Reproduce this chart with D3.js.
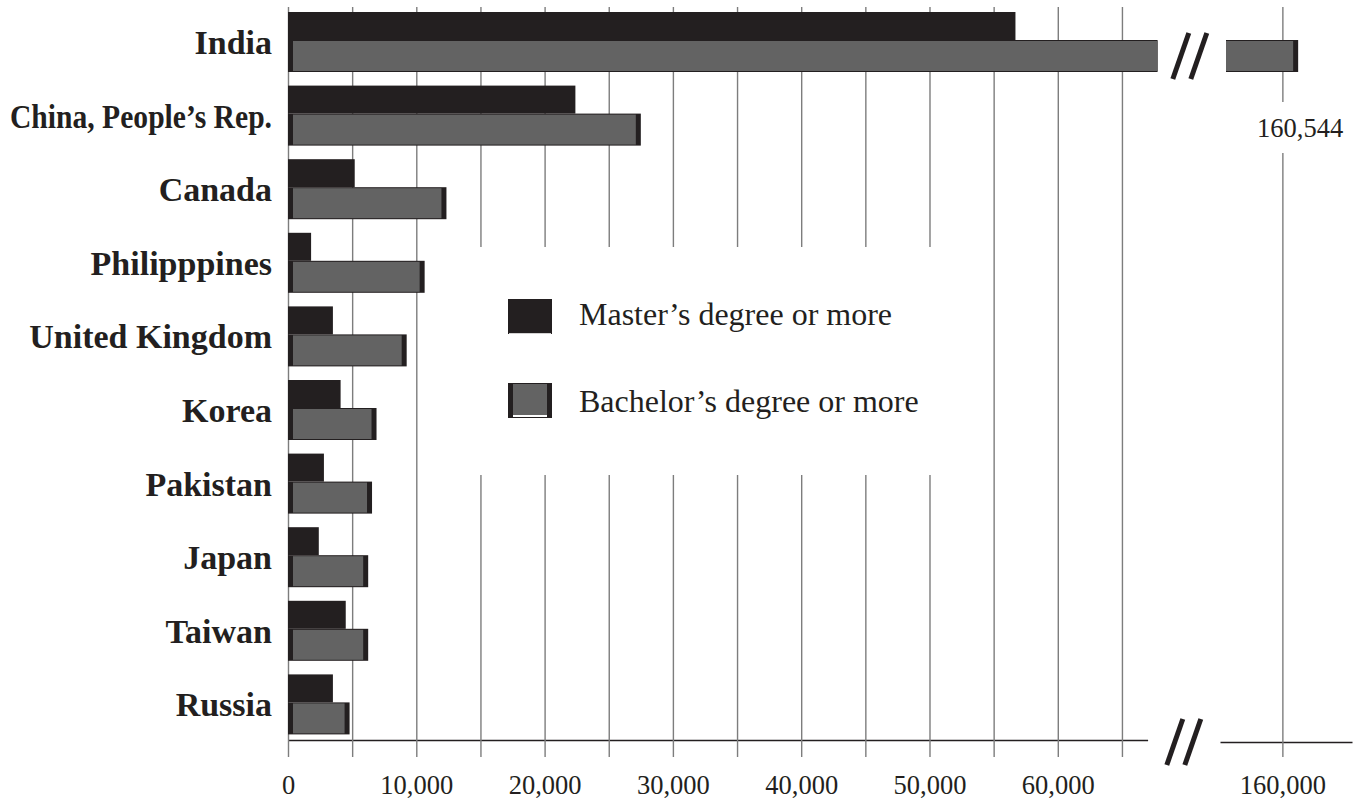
<!DOCTYPE html>
<html>
<head>
<meta charset="utf-8">
<script src="https://cdn.jsdelivr.net/npm/d3@7"></script>
<style>
  body { margin: 0; background: #fff; }
  svg { display: block; }
  text { fill: #231f20; font-family: "Liberation Serif", "Times New Roman", serif; }
</style>
</head>
<body>
<svg id="chart" width="1358" height="804"></svg>
<script>
// values
const countries = ['India', 'China, People’s Rep.', 'Canada', 'Philipppines', 'United Kingdom',
  'Korea', 'Pakistan', 'Japan', 'Taiwan', 'Russia']
const masters   = [56700, 22400, 5200, 1800, 3500, 4100, 2800, 2400, 4500, 3500]
const bachelors = [160544, 27500, 12350, 10650, 9250, 6900, 6550, 6250, 6250, 4800]

const gridValues  = [0, 5000, 10000, 15000, 20000, 25000, 30000, 35000, 40000, 45000, 50000, 55000, 60000, 65000]
const labelValues = [0, 10000, 20000, 30000, 40000, 50000, 60000]
const breakTicks  = [160000]
const legendItems = ['Master’s degree or more', 'Bachelor’s degree or more']

const dark = '#231f20'
const gray = '#636363'
const gridColor = '#7d7d7d'
const gridTop = 7
const axisY = 740
const fmt = d3.format(',')

const svg = d3.select('#chart')

const x  = d3.scaleLinear().domain([0, 67000]).range([288, 1147.6])
// the piece after the break is drawn on its own, stretched scale
const x2 = d3.scaleLinear().domain([157850, 162400]).range([1220, 1352])
const y  = d3.scaleBand().domain(countries).range([12, 748])

// ── grid + bottom axis, main segment ──
function styleAxis(g, dy) {
  g.select('.domain').attr('stroke', dark).attr('stroke-width', 1.5)
  g.selectAll('.tick line')
    .attr('y1', 17 - dy)
    .attr('stroke', gridColor)
    .attr('stroke-width', 1.4)
  g.selectAll('.tick text')
    .attr('y', 54 - dy)
    .attr('dy', null)
    .attr('fill', dark)
    .style('font-size', '26.5px')
}

const axis = d3.axisBottom(x)
  .tickValues(gridValues)
  .tickSizeInner(-(axisY - gridTop))
  .tickSizeOuter(0)
  .tickFormat(d => labelValues.includes(d) ? fmt(d) : '')

svg.append('g')
  .attr('transform', `translate(0,${axisY})`)
  .call(axis)
  .call(g => styleAxis(g, 0))

// ── right segment after the break ──
const axisY2 = axisY + 2
const axis2 = d3.axisBottom(x2)
  .tickValues(breakTicks)
  .tickSizeInner(-(axisY2 - gridTop))
  .tickSizeOuter(0)
  .tickFormat(fmt)

svg.append('g')
  .attr('transform', `translate(0,${axisY2})`)
  .call(axis2)
  .call(g => styleAxis(g, 2))

// white legend panel hides the gridlines behind it
svg.append('rect')
  .attr('x', 462).attr('y', 247)
  .attr('width', 496).attr('height', 228)
  .attr('fill', '#fff')

// ── bars ──
const rows = countries.map((c, i) => ({ c, m: masters[i], b: bachelors[i] }))
const mH = 28, bH = 32
const bars = svg.append('g')

bars.selectAll('rect.master')
  .data(rows)
  .join('rect')
  .attr('class', 'master')
  .attr('x', x(0))
  .attr('y', d => y(d.c))
  .attr('width', d => x(Math.min(d.m, x.domain()[1])) - x(0))
  .attr('height', mH)
  .attr('fill', dark)

const cutX = x.range()[1] + 10
const restartX = x2.range()[0] + 6

rows.forEach(d => {
  const by = y(d.c) + mH
  const broken = d.b > x.domain()[1]
  const end = broken ? cutX : x(d.b)
  bars.append('rect')
    .attr('x', x(0)).attr('y', by)
    .attr('width', end - x(0)).attr('height', bH)
    .attr('fill', dark)
  bars.append('rect')
    .attr('x', x(0) + 5).attr('y', by + 1)
    .attr('width', (broken ? end : end - 5) - x(0) - 5).attr('height', bH - 2)
    .attr('fill', gray)

  if (broken) {
    const e2 = x2(d.b)
    bars.append('rect')
      .attr('x', restartX).attr('y', by)
      .attr('width', e2 - restartX).attr('height', bH)
      .attr('fill', dark)
    bars.append('rect')
      .attr('x', restartX).attr('y', by + 1)
      .attr('width', e2 - 5 - restartX).attr('height', bH - 2)
      .attr('fill', gray)

    const lbl = svg.append('text')
      .attr('x', e2 + 2)
      .attr('y', by + bH + 65)
      .attr('text-anchor', 'middle')
      .style('font-size', '26.5px')
      .text(fmt(d.b))
    const bb = lbl.node().getBBox()
    svg.insert('rect', () => lbl.node())
      .attr('x', bb.x - 2).attr('y', by + bH + 30)
      .attr('width', bb.width + 4).attr('height', 51)
      .attr('fill', '#fff')
  }
})

// ── category labels ──
const maxLabel = 262
svg.append('g')
  .selectAll('text')
  .data(countries)
  .join('text')
  .attr('x', 272)
  .attr('y', d => y(d) + 42)
  .attr('text-anchor', 'end')
  .style('font-size', '34px')
  .style('font-weight', 'bold')
  .text(d => d)
  .each(function () {
    // squeeze the long label into the margin
    if (this.getComputedTextLength() > maxLabel) {
      d3.select(this).attr('textLength', maxLabel).attr('lengthAdjust', 'spacingAndGlyphs')
    }
  })

// ── break marks "//" ──
function breakMark(cx, cy) {
  const g = svg.append('g').attr('stroke', dark).attr('stroke-width', 5)
  ;[-9, 9].forEach(off => {
    g.append('line')
      .attr('x1', cx + off - 8).attr('y1', cy + 23)
      .attr('x2', cx + off + 8).attr('y2', cy - 23)
  })
}
const midBreak = (x.range()[1] + x2.range()[0]) / 2
breakMark(midBreak + 6, y(countries[0]) + mH + bH / 2)
breakMark(midBreak, axisY + 2)

// ── legend ──
const leg = svg.append('g').attr('transform', 'translate(508,299)')
const legStep = 84
leg.selectAll('text')
  .data(legendItems)
  .join('text')
  .attr('x', 71)
  .attr('y', (d, i) => 26 + i * (legStep + 3))
  .style('font-size', '32px')
  .text(d => d)

leg.append('rect').attr('width', 44).attr('height', 35).attr('fill', dark)
leg.append('line')
  .attr('x1', 1).attr('x2', 43).attr('y1', 34.5).attr('y2', 34.5)
  .attr('stroke', '#fff').attr('stroke-width', 0.8)

const b2 = leg.append('g').attr('transform', `translate(0,${legStep})`)
b2.append('rect').attr('width', 44).attr('height', 35).attr('fill', dark)
b2.append('rect').attr('x', 5).attr('y', 1).attr('width', 34).attr('height', 31).attr('fill', gray)
b2.append('rect').attr('x', 5).attr('y', 32).attr('width', 34).attr('height', 2).attr('fill', '#fff')
</script>
</body>
</html>
